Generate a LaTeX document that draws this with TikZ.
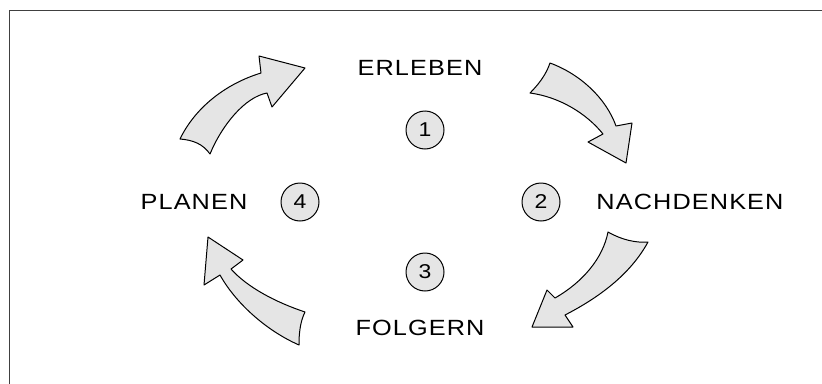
\documentclass[tikz,border=0pt]{standalone}
\usepackage{fontspec}
\newfontfamily\handfont[FakeStretch=1.15,LetterSpace=5]{Liberation Sans}
\begin{document}
\begin{tikzpicture}[x=1pt,y=-1pt,
  lbl/.style={font=\handfont\fontsize{22}{26}\selectfont,inner sep=0pt,anchor=center},
  numc/.style={circle,draw=black,line width=1pt,fill=gray!20,minimum size=38pt,inner sep=0pt,font=\handfont\fontsize{20}{22}\selectfont},
  blockarrow/.style={draw=black,fill=gray!20,line width=1pt,line join=round}]
\useasboundingbox (0,0) rectangle (822,383);
\draw[line width=1.5pt,black!75] (9.5,420) -- (9.5,10.5) -- (860,10.5);
% labels
\node[lbl] (erleben) at (420,68) {ERLEBEN};
\node[lbl] (nachdenken) at (690,202) {NACHDENKEN};
\node[lbl] (folgern) at (420,328) {FOLGERN};
\node[lbl] (planen) at (194,202) {PLANEN};
% numbers
\node[numc] (n1) at (425,130) {1};
\node[numc] (n2) at (541,202) {2};
\node[numc] (n3) at (425,272) {3};
\node[numc] (n4) at (300,202) {4};
% arrow 1: PLANEN -> ERLEBEN
\draw[blockarrow] (180,139) .. controls (195,108) and (225,84) .. (261,73)
  -- (259,56) -- (305,68) -- (272,107) -- (267,93)
  .. controls (245,97) and (222,125) .. (210,154)
  .. controls (203,144) and (193,140) .. cycle;
% arrow 2: ERLEBEN -> NACHDENKEN
\draw[blockarrow] (550,63) .. controls (580,74) and (606,98) .. (616,126)
  -- (632,123) -- (626,163) -- (588,142) -- (603,134)
  .. controls (587,114) and (560,97) .. (530,93)
  .. controls (538,85) and (546,75) .. cycle;
% arrow 3: NACHDENKEN -> FOLGERN
\draw[blockarrow] (608,232) .. controls (622,240) and (636,243) .. (648,242)
  .. controls (630,275) and (598,298) .. (565,315)
  -- (573,327) -- (532,327) -- (547,290) -- (555,298)
  .. controls (583,282) and (603,258) .. cycle;
% arrow 4: FOLGERN -> PLANEN
\draw[blockarrow] (305,312) .. controls (300,322) and (299,334) .. (299,345)
  .. controls (265,330) and (235,302) .. (220,275)
  -- (204,285) -- (208,237) -- (243,260) -- (231,269)
  .. controls (247,287) and (275,302) .. cycle;
\end{tikzpicture}
\end{document}
